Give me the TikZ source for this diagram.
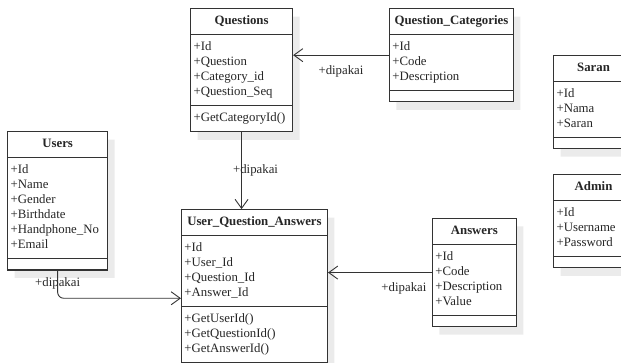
\documentclass[tikz,border=0pt]{standalone}
\usepackage{fontspec}
\setmainfont{Liberation Serif}
\usepackage{xcolor}
\definecolor{umlLine}{gray}{0.2}
\definecolor{umlText}{gray}{0.15}
\definecolor{umlShade}{gray}{0.92}
\usepackage{tikz}
\usetikzlibrary{positioning,shapes.multipart,shadows,arrows.meta}

\tikzset{
  cls/.style={rectangle split, rectangle split parts=3, draw=umlLine, line width=1.1pt,
    fill=white, inner xsep=3pt, inner ysep=5pt, align=left, anchor=north west,
    font=\fontsize{12.8}{15}\selectfont, text=umlText,
    drop shadow={shadow xshift=7pt, shadow yshift=-8pt, fill=umlShade, opacity=1}},
  uses/.style={draw=umlLine, line width=0.9pt, -{Straight Barb[length=9pt,width=13pt]}},
  lbl/.style={font=\fontsize{12.8}{15}\selectfont, text=umlText, inner sep=1pt}
}

\begin{document}
\begin{tikzpicture}
  \useasboundingbox (0,0) rectangle (21.83,12.76);
  \clip (0,0) rectangle (21.83,12.76);
  % classes
  \node[cls, text width=96pt] (questions) at (6.68,12.48)
    {\hfill\textbf{Questions}\hfill\strut
     \nodepart{two}\strut+Id\\+Question\\+Category\_id\\+Question\_Seq\strut
     \nodepart{three}\strut+GetCategoryId()\strut};
  \node[cls, text width=118pt] (categories) at (13.67,12.48)
    {\hfill\textbf{Question\_Categories}\hfill\strut
     \nodepart{two}\strut+Id\\+Code\\+Description\strut
     \nodepart{three}};
  \node[cls, text width=94pt] (users) at (0.25,8.15)
    {\hfill\textbf{Users}\hfill\strut
     \nodepart{two}\strut+Id\\+Name\\+Gender\\+Birthdate\\+Handphone\_No\\+Email\strut
     \nodepart{three}};
  \node[cls, text width=140pt] (uqa) at (6.36,5.41)
    {\hfill\textbf{User\_Question\_Answers}\hfill\strut
     \nodepart{two}\strut+Id\\+User\_Id\\+Question\_Id\\+Answer\_Id\strut
     \nodepart{three}\strut+GetUserId()\\+GetQuestionId()\\+GetAnswerId()\strut};
  \node[cls, text width=78pt] (answers) at (15.18,5.10)
    {\hfill\textbf{Answers}\hfill\strut
     \nodepart{two}\strut+Id\\+Code\\+Description\\+Value\strut
     \nodepart{three}};
  \node[cls, text width=74pt] (saran) at (19.44,10.83)
    {\hfill\textbf{Saran}\hfill\strut
     \nodepart{two}\strut+Id\\+Nama\\+Saran\strut
     \nodepart{three}};
  \node[cls, text width=74pt] (admin) at (19.44,6.64)
    {\hfill\textbf{Admin}\hfill\strut
     \nodepart{two}\strut+Id\\+Username\\+Password\strut
     \nodepart{three}};
  % associations
  \draw[uses] (categories.west) -- (categories.west -| questions.east)
    node[lbl, midway, below=9pt] {+dipakai};
  \draw[uses] (questions.south) -- (questions.south |- uqa.north)
    node[lbl, midway, xshift=14pt] {+dipakai};
  \draw[uses, rounded corners=6pt] (users.south) |- ([yshift=-12pt]uqa.west)
    node[lbl, pos=0, below=6pt] {+dipakai};
  \draw[uses] (answers.west) -- (answers.west -| uqa.east)
    node[lbl, pos=0, below left=9pt and 4pt] {+dipakai};
\end{tikzpicture}
\end{document}
